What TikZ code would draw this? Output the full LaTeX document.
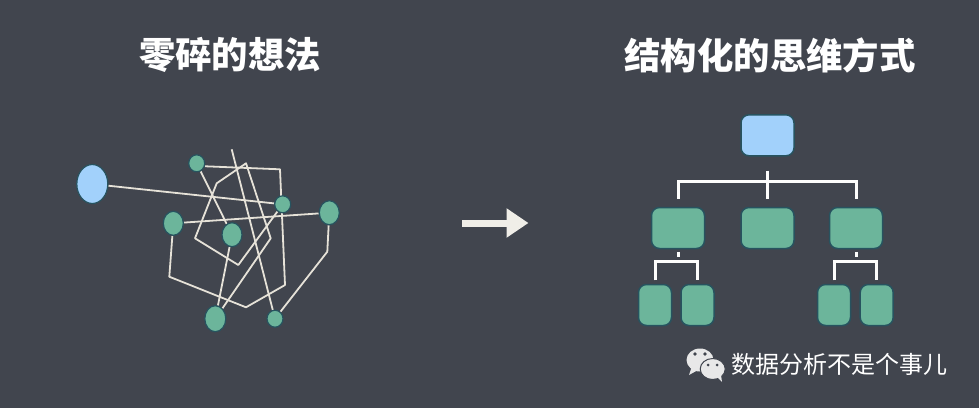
\documentclass[tikz,border=0pt]{standalone}
\usepackage{xcolor}
\usepackage{fontspec}
\usepackage{tikz}
\usetikzlibrary{arrows.meta, positioning, shapes.geometric, backgrounds}
\newfontfamily\cjk{Noto Sans CJK SC}
\definecolor{slatebg}{HTML}{41454E}
\definecolor{bluebox}{HTML}{A2D1FB}
\definecolor{greenbox}{HTML}{6CB59B}
\definecolor{edgeteal}{HTML}{27535F}
\definecolor{wirecol}{HTML}{E6E2D8}
\definecolor{chatcol}{HTML}{E8E8E8}
\tikzset{
  blob/.style={ellipse, fill=greenbox, draw=edgeteal, line width=1.2pt, inner sep=0pt},
  bigblob/.style={blob, minimum width=20pt, minimum height=24pt},
  smallblob/.style={blob, minimum width=16pt, minimum height=17pt},
  boxa/.style={rectangle, rounded corners=8pt, fill=greenbox, draw=edgeteal, line width=1.5pt, inner sep=0pt, minimum width=53pt, minimum height=41pt},
  boxb/.style={boxa, minimum width=33pt, minimum height=41pt},
  thinwire/.style={draw=wirecol, line width=1.8pt, line join=round},
  treewire/.style={draw=white!92!wirecol, line width=3pt},
  headline/.style={text=white, font=\cjk\bfseries\fontsize{36.4}{40}\selectfont}
}

\begin{document}
\begin{tikzpicture}[x=1pt, y=-1pt]
    \useasboundingbox (0,0) rectangle (979,408);
    \begin{scope}[on background layer]
      \fill[slatebg] (0,0) rectangle (979,408);
    \end{scope}

    \node[headline] (titleleft) at (230,55) {零碎的想法};
    \node[headline] (titleright) at (770,55) {结构化的思维方式};

    \node[blob, fill=bluebox, minimum width=31pt, minimum height=39pt] (core) at (92.3,184) {};
    \node[smallblob] (ga) at (196.7,163.3) {};
    \node[smallblob] (gb) at (282.7,204.3) {};
    \node[bigblob] (gc) at (329.3,212.7) {};
    \node[bigblob] (gd) at (173.3,223.3) {};
    \node[bigblob] (ge) at (232,234.7) {};
    \node[bigblob, minimum width=21pt, minimum height=26pt] (gf) at (215.3,318.7) {};
    \node[smallblob] (gg) at (275,318.7) {};
    \coordinate (loose) at (231.7,149.3);

    \begin{scope}[on background layer]
      \draw[thinwire] (core) -- (gb);
      \draw[thinwire] (gd) -- (gc);
      \draw[thinwire] (ga) -- (ge);
      \draw[thinwire] (ge) -- (gf);
      \draw[thinwire] (ga.-20) -- (280,169.3) -- (285,285) -- (246,307.3) -- (169.3,276.7) -- (gd);
      \draw[thinwire] (gb) -- (238.3,265) -- (195,238.3) -- (216.7,183.3) -- (246,163.3) -- (270.7,238.3) -- (gf);
      \draw[thinwire] (loose) -- (gg);
      \draw[thinwire] (gc) -- (327.3,251.7) -- (gg);
    \end{scope}

    \coordinate (shaftstart) at (462,223);
    \coordinate (shaftend) at (528.5,223);
    \draw[line width=7pt, draw=wirecol!60!white, -{Triangle[length=22pt, width=28pt]}] (shaftstart) -- (shaftend);

    \node[boxa, fill=bluebox] (root) at (767.5,135.3) {};
    \node[boxa] (midl) at (678,228) {};
    \node[boxa] (midc) at (767.5,228) {};
    \node[boxa] (midr) at (856,228) {};
    \node[boxb] (leafa) at (655,305) {};
    \node[boxb] (leafb) at (697.5,305) {};
    \node[boxb] (leafc) at (834,305) {};
    \node[boxb] (leafd) at (876.7,305) {};
    \coordinate (bustop) at (767.5,181);
    \coordinate (busl) at (678,261.7);
    \coordinate (busr) at (856,261.7);

    \draw[treewire, shorten <=14pt, shorten >=8pt] (root) -- (midc);
    \draw[treewire, shorten <=8pt, shorten >=8pt] (midl) |- (bustop) -| (midr);
    \draw[treewire, shorten <=2.5pt, shorten >=5pt] (midl) -- (busl);
    \draw[treewire, shorten <=2.5pt, shorten >=5pt] (midr) -- (busr);
    \draw[treewire, shorten <=3.5pt, shorten >=3.5pt] (leafa) |- (busl) -| (leafb);
    \draw[treewire, shorten <=3.5pt, shorten >=3.5pt] (leafc) |- (busr) -| (leafd);

    % chat icon
    \fill[chatcol] (700,360) ellipse (13.5 and 11.5);
    \fill[chatcol] (692,366) -- (689,375) -- (698,370) -- cycle;
    \fill[chatcol, draw=slatebg, line width=1pt] (712.7,369) ellipse (12.5 and 10.5);
    \fill[chatcol] (717,377) -- (722,382) -- (721,375) -- cycle;
    \fill[slatebg] (695,354) circle (1.8) (705,354) circle (1.8) (708,365) circle (1.5) (717,365) circle (1.5);
    \node[text=white, font=\cjk\fontsize{24}{28}\selectfont, anchor=west, inner sep=0pt] (mark) at (731,364) {数据分析不是个事儿};
\end{tikzpicture}
\end{document}
